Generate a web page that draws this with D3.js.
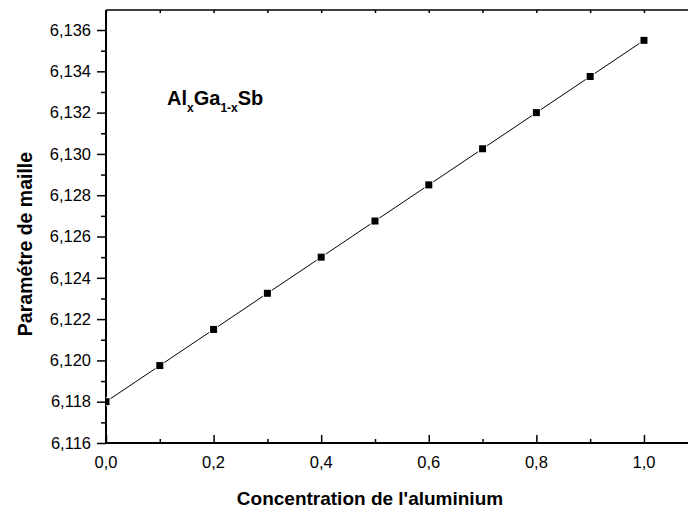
<!DOCTYPE html>
<html><head><meta charset="utf-8">
<script src="https://cdn.jsdelivr.net/npm/d3@7"></script>
<style>body{margin:0;background:#fff}svg{display:block}text{font-family:Arial,"Liberation Sans",sans-serif}</style>
</head><body>
<svg id="c" width="688" height="512"></svg>
<script>
const xValues = [0.0, 0.1, 0.2, 0.3, 0.4, 0.5, 0.6, 0.7, 0.8, 0.9, 1.0];
const yValues = [6.1180, 6.11975, 6.1215, 6.12325, 6.1250, 6.12675, 6.1285, 6.13025, 6.1320, 6.13375, 6.1355];
const xTicks = [0.0, 0.2, 0.4, 0.6, 0.8, 1.0];
const yTicks = [6.116, 6.118, 6.120, 6.122, 6.124, 6.126, 6.128, 6.130, 6.132, 6.134, 6.136];
const xMinor = [0.1, 0.3, 0.5, 0.7, 0.9];
const yMinor = [6.117, 6.119, 6.121, 6.123, 6.125, 6.127, 6.129, 6.131, 6.133, 6.135];
const fitLine = [[0.0, 6.1180], [1.0, 6.1355]];

const svg = d3.select("#c");
const L = 106, R = 687, T = 10, B = 443;
const x = d3.scaleLinear().domain([0, 1.08]).range([L, R]);
const y = d3.scaleLinear().domain([6.116, 6.13697]).range([B, T]);
const fmt = d => d3.format(".1f")(d).replace(".", ",");
const fmtY = d => d3.format(".3f")(d).replace(".", ",");

svg.append("defs").append("clipPath").attr("id", "clip")
  .append("rect").attr("x", L).attr("y", T).attr("width", R - L).attr("height", B - T);

// top axis line with small inward ticks
svg.append("line").attr("x1", L).attr("x2", 688).attr("y1", T).attr("y2", T).attr("stroke", "#000").attr("stroke-width", 1.5);
const topT = svg.append("g").attr("transform", `translate(0,${T})`)
  .call(d3.axisBottom(x).tickValues(xTicks.concat(xMinor)).tickSize(3).tickFormat(""));
topT.select(".domain").remove();

// bottom axis
const gx = svg.append("g").attr("transform", `translate(0,${B})`)
  .call(d3.axisTop(x).tickValues(xTicks).tickSize(8).tickFormat(""));
gx.select(".domain").remove();
svg.append("g").attr("transform", `translate(0,${B})`)
  .call(d3.axisTop(x).tickValues(xMinor).tickSize(4).tickFormat("")).select(".domain").remove();
svg.append("line").attr("x1", L - 1).attr("x2", 688).attr("y1", B).attr("y2", B).attr("stroke", "#000").attr("stroke-width", 2);
svg.selectAll("g.tick line").attr("stroke-width", 1.5);
svg.append("g").selectAll("text").data(xTicks).join("text")
  .attr("x", d => x(d)).attr("y", 468).attr("text-anchor", "middle")
  .attr("font-size", 16.5).text(fmt);

// left axis
const gy = svg.append("g").attr("transform", `translate(${L},0)`)
  .call(d3.axisLeft(y).tickValues(yTicks).tickSize(9).tickPadding(6).tickFormat(fmtY));
gy.select(".domain").remove();
gy.selectAll("text").attr("font-size", 16.5).attr("font-family", "Arial, 'Liberation Sans', sans-serif").attr("fill", "#000");
gy.selectAll("line").attr("stroke-width", 1.5);
const gym = svg.append("g").attr("transform", `translate(${L},0)`)
  .call(d3.axisLeft(y).tickValues(yMinor).tickSize(5).tickFormat(""));
gym.select(".domain").remove();
gym.selectAll("line").attr("stroke-width", 1.5);
svg.append("line").attr("x1", L).attr("x2", L).attr("y1", T).attr("y2", B + 1).attr("stroke", "#000").attr("stroke-width", 2);

// data
const plot = svg.append("g").attr("clip-path", "url(#clip)");
plot.append("path").datum(fitLine)
  .attr("d", d3.line().x(d => x(d[0])).y(d => y(d[1])))
  .attr("stroke", "#000").attr("stroke-width", 1).attr("fill", "none");
const s = 7;
plot.selectAll("rect.pt").data(xValues).join("rect").attr("class", "pt")
  .attr("x", (d) => x(d) - s / 2).attr("y", (d, i) => y(yValues[i]) - s / 2)
  .attr("width", s).attr("height", s).attr("fill", "#000")
  .attr("stroke", "#fff").attr("stroke-width", 2).attr("paint-order", "stroke");

// labels
svg.append("text").attr("x", 370).attr("y", 505).attr("text-anchor", "middle")
  .attr("font-size", 19).attr("font-weight", "bold").text("Concentration de l'aluminium");
svg.append("text").attr("transform", "translate(32,244) rotate(-90)").attr("text-anchor", "middle")
  .attr("font-size", 19.5).attr("font-weight", "bold").text("Paramétre de maille");

const ann = svg.append("text").attr("x", 167).attr("y", 105).attr("font-size", 20).attr("font-weight", "bold");
ann.append("tspan").text("Al");
ann.append("tspan").attr("font-size", 12).attr("dy", 7).text("x");
ann.append("tspan").attr("dy", -7).text("Ga");
ann.append("tspan").attr("font-size", 12).attr("dy", 7).text("1-x");
ann.append("tspan").attr("dy", -7).text("Sb");
</script>
</body></html>
